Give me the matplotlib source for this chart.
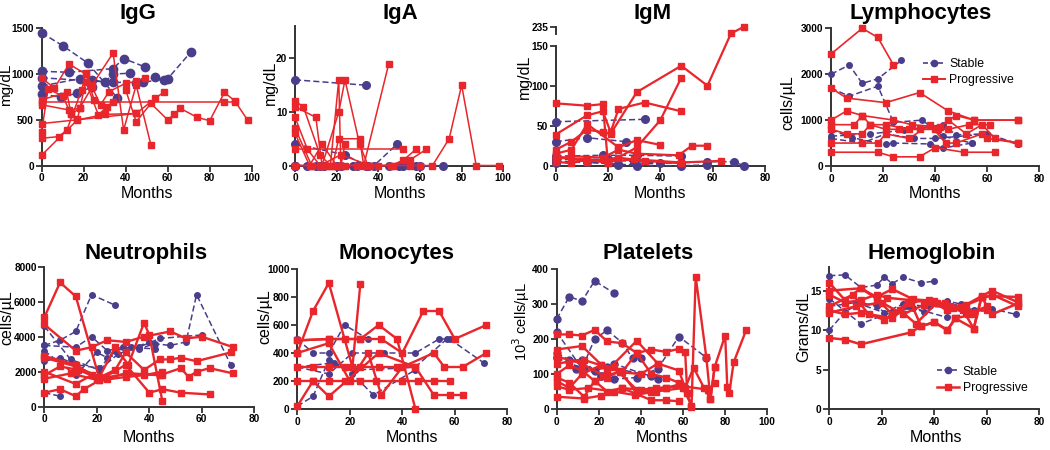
import numpy as np
import matplotlib
matplotlib.use("Agg")
import matplotlib.pyplot as plt
import matplotlib.transforms as mtransforms
from matplotlib.lines import Line2D

plt.rcParams['font.family'] = ['Liberation Sans', 'DejaVu Sans']

RED = '#E8262B'
PURPLE = '#4A3D8C'
SPINE = '#333333'

# ---------------- IgG ----------------
igg_stable_months = [[0, 10, 22, 36], [0, 13, 34, 39, 49], [0, 18, 24, 30, 34, 42],
                     [0, 34, 48, 54, 58], [0, 9, 17, 24], [45, 60, 71]]
igg_stable_vals = [[1450, 1310, 1120, 740], [1030, 1020, 1060, 1170, 1080], [870, 950, 940, 910, 1000, 1010],
                   [960, 910, 910, 970, 940], [780, 750, 790, 860], [900, 950, 1240]]
igg_prog_months = [[0, 6, 13, 21, 24, 34, 39, 45, 52], [0, 12, 14, 17, 21, 27, 31, 34],
                   [0, 13, 18, 24, 28, 32, 40, 45, 49], [0, 8, 12, 19, 21, 25],
                   [0, 3, 10, 14, 18], [0, 45, 54, 58], [0, 87, 92],
                   [40, 45, 52, 60, 63, 66, 74, 80, 87, 92, 98], [0, 17, 30, 45]]
igg_prog_vals = [[960, 845, 1110, 1000, 880, 1230, 390, 880, 226], [720, 800, 560, 506, 917, 553, 644, 700],
                 [665, 608, 626, 860, 662, 808, 900, 920, 954], [300, 317, 389, 826, 1008, 717],
                 [371, 840, 760, 560, 626], [460, 570, 735, 800], [700, 700, 700],
                 [826, 480, 680, 500, 560, 626, 528, 491, 800, 706, 499], [116, 500, 560, 570]]

# ---------------- IgA ----------------
iga_stable_months = [[0, 34], [0, 24, 34], [0, 10, 20, 28, 38, 49], [0, 14, 30, 45, 52, 60, 71],
                     [0, 6, 12, 22, 35, 50, 58]]
iga_stable_vals = [[16, 15], [4, 2, 0], [0, 0, 0, 0, 0, 4], [0, 0, 0, 0, 0, 0, 0], [0, 0, 0, 0, 0, 0, 0]]
iga_prog_months = [[0, 4, 12, 17, 21, 22, 24], [0, 10, 13, 21, 24, 31, 35],
                   [0, 6, 12, 18, 21, 31, 33, 45], [0, 52], [0, 7, 13, 20, 30],
                   [0, 8, 15, 24, 35, 46, 52, 58], [0, 12, 22, 36, 47, 55, 63],
                   [0, 20, 40, 55, 60, 66, 74, 80, 87, 98]]
iga_prog_vals = [[12, 11, 2, 0, 16, 0, 4], [11, 9, 0, 10, 16, 4, 0],
                 [9, 3, 0, 0, 5, 5, 0, 19], [3, 3], [6, 0, 4, 0, 0],
                 [7, 0, 0, 0, 0, 0, 1, 3], [0, 0, 2, 0, 0, 1, 3],
                 [0, 0, 0, 0, 0, 0, 5, 15, 0, 0]]

# ---------------- IgM ----------------
igm_stable_months = [[0, 34], [0, 12, 27], [0, 18, 31, 48], [0, 12, 24, 40, 58, 68, 72],
                     [0, 24, 31, 48, 58], [0, 20, 30, 48]]
igm_stable_vals = [[55, 58], [30, 35, 30], [12, 13, 13, 12], [4, 5, 1, 3, 5, 5, 0],
                   [6, 2, 0, 0, 1], [8, 8, 5, 3]]
igm_prog_months = [[0, 12, 18, 20], [0, 12, 18, 21, 24, 34, 48],
                   [0, 6, 12, 18, 21, 31, 48, 58, 67, 72], [0, 6, 12, 24, 31, 40],
                   [0, 12, 20, 31, 40, 48], [0, 6, 18, 24, 31, 47, 52, 58],
                   [0, 6, 12, 20, 30, 48, 63], [0, 12, 24, 34, 48]]
igm_prog_vals = [[78, 75, 77, 3], [39, 63, 68, 42, 71, 79, 68],
                 [20, 30, 45, 42, 40, 92, 125, 100, 205, 235], [15, 20, 52, 23, 32, 26],
                 [10, 8, 3, 23, 57, 110], [8, 12, 10, 20, 15, 13, 25, 25],
                 [5, 3, 8, 5, 8, 4, 6], [12, 5, 10, 6, 3]]

# ---------------- Lymphocytes ----------------
lym_stable_months = [[0, 7, 12, 18, 27], [0, 7, 18, 24, 35, 43, 54], [0, 8, 18, 21, 24, 38, 43, 54],
                     [0, 12, 21, 32, 40, 58, 72], [0, 15, 28, 43, 48, 60, 72]]
lym_stable_vals = [[2000, 2200, 1800, 1900, 2300], [1700, 1520, 1740, 950, 1000, 650, 500],
                   [790, 620, 500, 480, 500, 480, 390, 500], [600, 500, 700, 600, 600, 690, 470],
                   [650, 700, 780, 900, 680, 700, 480]]
lym_prog_months = [[0, 12, 18, 24], [0, 6, 21, 34, 45, 55, 72],
                   [0, 6, 12, 15, 21, 30, 40, 48, 55, 72],
                   [0, 9, 12, 24, 31, 42, 45, 52, 58, 63, 72],
                   [0, 18, 24, 34, 40, 51, 63],
                   [0, 12, 18, 21, 30, 38, 44, 48, 58, 60, 72],
                   [0, 6, 12, 15, 21, 26, 34, 41, 45, 53, 61]]
lym_prog_vals = [[2440, 3000, 2800, 2200], [1700, 1480, 1380, 1600, 1200, 1000, 1000],
                 [1000, 1200, 1100, 900, 900, 800, 800, 1100, 1000, 1000],
                 [900, 900, 1100, 1000, 900, 850, 1000, 700, 900, 600, 500],
                 [300, 300, 200, 200, 400, 300, 300],
                 [500, 500, 500, 700, 600, 900, 500, 500, 700, 600, 500],
                 [800, 700, 700, 900, 800, 800, 800, 800, 800, 900, 900]]

# ---------------- Neutrophils ----------------
neu_stable_months = [[0, 6, 12, 18, 27], [0, 12, 18, 24, 30, 36, 42, 48, 54, 58, 71],
                     [0, 6, 12, 21, 27, 33, 42], [0, 6], [0, 12, 20, 24, 36, 44, 60],
                     [0, 10, 21, 28, 40]]
neu_stable_vals = [[3500, 3800, 4300, 6400, 5800],
                   [3500, 3400, 4000, 3200, 3400, 3300, 3600, 3500, 3700, 6400, 2400],
                   [2600, 2800, 2400, 2200, 3200, 3400, 3300], [800, 600],
                   [3200, 1800, 3100, 2800, 3400, 3900, 4100], [4600, 2700, 2100, 3000, 3700]]
neu_prog_months = [[0, 6, 12, 21], [0, 12, 18, 24, 31, 38, 48, 54, 60, 72],
                   [0, 12, 21, 27, 32, 38, 40, 45],
                   [0, 12, 20, 27, 31, 38, 44, 48, 52, 58, 71],
                   [0, 12, 18, 24, 31, 44, 52, 55, 58, 63, 72],
                   [0, 6, 12, 15, 21, 31, 40, 45, 52, 63],
                   [0, 10, 21, 31, 38, 45], [0, 6, 13, 21, 32, 45]]
neu_prog_vals = [[5100, 7100, 6300, 1600], [4700, 3200, 3400, 3800, 3700, 4000, 4300, 3900, 4000, 3400],
                 [2800, 2300, 1700, 3400, 2400, 4800, 4100, 300],
                 [2900, 2400, 1600, 2100, 3100, 2100, 2700, 2700, 2800, 2600, 3100],
                 [2000, 1300, 1800, 1600, 1900, 1800, 2200, 1700, 2000, 2200, 1900],
                 [800, 1000, 600, 1000, 1500, 2400, 800, 1000, 800, 700],
                 [1600, 1900, 1500, 1700, 1800, 2000], [1800, 2300, 2100, 1600, 1900, 1800]]

# ---------------- Monocytes ----------------
mono_stable_months = [[0, 6, 12, 18, 27], [0, 12, 21, 27, 33, 40, 45, 54, 58, 71],
                      [0, 6, 12, 21, 29, 45], [0, 14, 22, 38, 45, 57]]
mono_stable_vals = [[500, 400, 400, 600, 500], [300, 250, 400, 400, 400, 400, 400, 500, 500, 330],
                    [20, 90, 350, 250, 100, 280], [300, 330, 280, 290, 300, 500]]
mono_prog_months = [[0, 6, 12, 21, 24], [0, 12, 18, 24, 31, 38, 45],
                    [0, 6, 12, 18, 24, 30, 40, 46, 52, 58], [0, 6, 12, 18, 24, 31, 38, 45],
                    [0, 12, 24, 32, 40, 48, 54, 60, 72], [0, 6, 12, 31, 45, 52, 58, 63],
                    [0, 12, 20, 27, 32, 40, 52, 56, 63, 72]]
mono_prog_vals = [[400, 700, 900, 300, 890], [490, 500, 500, 500, 600, 500, 0],
                  [200, 200, 200, 200, 200, 200, 200, 200, 200, 200],
                  [300, 300, 300, 300, 300, 300, 300, 300],
                  [490, 500, 500, 500, 400, 700, 700, 500, 600], [20, 200, 90, 400, 300, 100, 100, 100],
                  [400, 470, 200, 400, 100, 300, 400, 300, 300, 400]]

# ---------------- Platelets ----------------
plt_stable_months = [[0, 6, 12, 18, 27], [0, 12, 18, 24, 31, 36, 40],
                     [0, 6, 12, 21, 27, 38, 48, 58, 71], [0, 13, 21, 27, 48], [0, 9, 18, 24, 45]]
plt_stable_vals = [[257, 321, 308, 366, 332], [220, 115, 200, 225, 190, 145, 145],
                   [160, 140, 140, 95, 85, 90, 115, 207, 147], [145, 115, 95, 130, 85],
                   [150, 115, 110, 120, 95]]
plt_prog_months = [[0, 6, 12, 18, 24, 31, 38, 45, 52, 58, 61, 62, 64, 66, 71, 73, 75],
                   [0, 12, 24, 38, 48, 58, 61, 65, 70, 73, 75, 80, 81, 82, 84, 90],
                   [0, 13, 21, 31, 38, 45, 52, 58], [0, 6, 12, 18, 24, 30, 38, 45, 52, 58, 63],
                   [0, 6, 12, 21, 27, 38, 45, 52], [0, 6, 13, 18, 24, 31, 40, 47, 60, 72, 75],
                   [0, 13, 21, 31, 45, 52, 58], [0, 6, 15, 27, 37, 47, 60, 64],
                   [0, 12, 22, 30, 40, 48]]
plt_prog_vals = [[213, 213, 210, 226, 193, 188, 160, 170, 163, 172, 162, 45, 5, 378, 150, 30, 121],
                 [170, 180, 110, 195, 130, 110, 60, 118, 60, 28, 120, 210, 62, 47, 133, 226],
                 [130, 140, 125, 105, 160, 100, 90, 75], [100, 125, 110, 80, 90, 110, 45, 50, 60, 70, 45],
                 [80, 60, 100, 125, 120, 55, 55, 60], [90, 75, 35, 80, 50, 60, 55, 60, 65, 55, 75],
                 [35, 30, 38, 60, 25, 25, 22], [65, 55, 60, 50, 40, 50, 60, 10],
                 [150, 130, 95, 105, 100, 130]]

# ---------------- Hemoglobin ----------------
hgb_stable_months = [[0, 6, 12, 18, 21, 24, 28, 35, 40], [0, 6, 12, 18, 24, 30, 36, 45, 50, 55],
                     [0, 12, 24, 32, 45, 52, 62, 71], [0, 10, 21, 28, 38, 48]]
hgb_stable_vals = [[16.9, 17.0, 15.4, 15.7, 16.7, 15.9, 16.7, 16.0, 16.2],
                   [10.0, 12.3, 13.5, 13.0, 11.5, 13.0, 12.3, 13.7, 13.3, 12.5],
                   [14.0, 10.8, 12.3, 12.8, 11.6, 12.0, 12.7, 12.0],
                   [13.0, 13.5, 12.2, 13.3, 13.0, 12.9]]
hgb_prog_months = [[0, 6, 12, 18, 24, 32, 40, 45, 52, 58, 62, 72],
                   [0, 6, 12, 18, 22, 31, 38, 46, 51, 55, 58, 62, 72],
                   [0, 6, 12, 24, 31, 35, 40, 45, 48, 55],
                   [0, 6, 12, 31, 35, 40, 45, 48, 55, 58, 62, 72],
                   [0, 9, 15, 21, 27, 33, 41, 47, 53, 60],
                   [0, 12, 18, 24, 30, 38, 45, 50, 62, 72],
                   [0, 10, 20, 28, 36, 44, 52, 60]]
hgb_prog_vals = [[16.0, 13.8, 15.3, 14.2, 15.2, 13.9, 13.7, 12.9, 13.2, 14.3, 15.0, 13.5],
                 [14.5, 13.5, 13.8, 14.5, 14.1, 13.8, 13.6, 13.0, 12.5, 10.2, 14.2, 14.3, 14.2],
                 [12.5, 12.0, 12.2, 11.5, 13.5, 10.5, 11.0, 10.0, 11.5, 12.0],
                 [9.0, 8.8, 8.2, 9.7, 10.5, 11.0, 10.0, 11.5, 10.2, 14.2, 12.0, 13.4],
                 [13.0, 14.5, 12.0, 11.3, 12.5, 10.8, 13.5, 12.8, 12.0, 13.0],
                 [15.0, 15.3, 14.0, 12.0, 13.5, 13.8, 12.5, 12.9, 14.5, 13.0],
                 [12.2, 13.0, 13.5, 12.0, 13.2, 13.5, 12.5, 12.5]]

W, H = 1050, 450
fig = plt.figure(figsize=(10.5, 4.5), dpi=100)


def add_axes(x0, x1, yb, yt):
    return fig.add_axes([x0 / W, 1 - yb / H, (x1 - x0) / W, (yb - yt) / H])


def style(ax, xticks, yticks, xlim, ylim):
    ax.set_xlim(*xlim)
    ax.set_ylim(*ylim)
    ax.set_xticks(xticks)
    ax.set_yticks(yticks)
    for s in ['top', 'right']:
        ax.spines[s].set_visible(False)
    for s in ['left', 'bottom']:
        ax.spines[s].set_linewidth(1.4)
        ax.spines[s].set_color(SPINE)
    ax.spines['bottom'].set_bounds(xticks[0], xticks[-1])
    ax.tick_params(direction='out', length=4, width=1.3, color=SPINE, labelsize=7.3, pad=1.5)
    for lab in ax.get_xticklabels() + ax.get_yticklabels():
        lab.set_fontweight('bold')
    ax.patch.set_visible(False)


def draw(ax, sm, sv, pm, pv, cs=5.0, ss=4.2, lw_s=1.1, lw_p=1.3):
    for m, v in zip(sm, sv):
        ax.plot(m, v, color=PURPLE, ls=(0, (4, 2)), lw=lw_s, marker='o', ms=cs,
                mec=PURPLE, mfc=PURPLE, clip_on=False, zorder=3)
    for m, v in zip(pm, pv):
        ax.plot(m, v, color=RED, ls='-', lw=lw_p, marker='s', ms=ss,
                mec=RED, mfc=RED, clip_on=False, zorder=4)


def labels(title, tx, ty, ylab, yx, yy, mx, my, ysize=11.5):
    fig.text(tx / W, 1 - ty / H, title, fontsize=16, fontweight='bold', ha='center', va='baseline')
    fig.text(yx / W, 1 - yy / H, ylab, fontsize=ysize, rotation=90, ha='center', va='center')
    fig.text(mx / W, 1 - my / H, 'Months', fontsize=11.5, ha='center', va='center')


# IgG
ax = add_axes(41.7, 251.7, 165.7, 28.3)
style(ax, [0, 20, 40, 60, 80, 100], [0, 500, 1000, 1500], (0, 100), (0, 1500))
draw(ax, igg_stable_months, igg_stable_vals, igg_prog_months, igg_prog_vals, cs=6.0, ss=4.5, lw_p=1.1)
labels('IgG', 138, 19, 'mg/dL', 6.5, 85, 147, 193, ysize=11)

# IgA
ax = add_axes(295, 503.3, 165.5, 26.3)
style(ax, [0, 20, 40, 60, 80, 100], [0, 10, 20], (0, 100), (0, 26))
draw(ax, iga_stable_months, iga_stable_vals, iga_prog_months, iga_prog_vals, cs=5.5, ss=4.2, lw_p=1.1)
labels('IgA', 400, 19, 'mg/dL', 270, 83, 400, 193)

# IgM with broken axis
BRK, RATIO = 150.0, 0.28


def fwd(y):
    y = np.asarray(y, dtype=float)
    return np.where(y <= BRK, y, BRK + (y - BRK) * RATIO)


def inv(y):
    y = np.asarray(y, dtype=float)
    return np.where(y <= BRK, y, BRK + (y - BRK) / RATIO)


ax = add_axes(555.7, 765, 165.7, 26.7)
ax.set_yscale('function', functions=(fwd, inv))
style(ax, [0, 20, 40, 60, 80], [0, 50, 100, 150, 235], (0, 80), (0, 235))
ax.spines['left'].set_bounds(0, 150)
trans = mtransforms.blended_transform_factory(ax.transAxes, ax.transData)
ax.add_line(Line2D([0, 0], [203, 235], transform=trans, color=SPINE, lw=1.4, clip_on=False))
draw(ax, igm_stable_months, igm_stable_vals, igm_prog_months, igm_prog_vals, cs=5.5, ss=4.2, lw_p=1.6)
labels('IgM', 653, 19, 'mg/dL', 524, 77, 660, 193)

# Lymphocytes
ax = add_axes(831, 1039.3, 166, 28.3)
style(ax, [0, 20, 40, 60, 80], [0, 1000, 2000, 3000], (0, 80), (0, 3000))
draw(ax, lym_stable_months, lym_stable_vals, lym_prog_months, lym_prog_vals, cs=4.0, ss=4.2, lw_p=1.2)
labels('Lymphocytes', 921, 19, 'cells/µL', 788, 103, 935, 193)
hs = [Line2D([], [], color=PURPLE, ls=(0, (3, 1.5)), lw=1.2, marker='o', ms=4.5),
      Line2D([], [], color=RED, lw=1.4, marker='s', ms=4.5)]
ax.legend(hs, ['Stable', 'Progressive'], loc='upper left', bbox_to_anchor=(0.42, 0.82),
          frameon=False, fontsize=8.8, handlelength=1.8, handletextpad=0.3, labelspacing=0.35,
          borderaxespad=0)

# Neutrophils
ax = add_axes(44.3, 254.3, 406.7, 266.7)
style(ax, [0, 20, 40, 60, 80], [0, 2000, 4000, 6000, 8000], (0, 80), (0, 8000))
draw(ax, neu_stable_months, neu_stable_vals, neu_prog_months, neu_prog_vals, cs=4.0, ss=4.3, lw_p=1.7)
labels('Neutrophils', 146, 259, 'cells/µL', 7, 318, 149, 438)

# Monocytes
ax = add_axes(297.3, 507.3, 409, 269)
style(ax, [0, 20, 40, 60, 80], [0, 200, 400, 600, 800, 1000], (0, 80), (0, 1000))
draw(ax, mono_stable_months, mono_stable_vals, mono_prog_months, mono_prog_vals, cs=4.0, ss=4.3, lw_p=1.7)
labels('Monocytes', 397, 259, 'cells/µL', 265, 317, 412, 438)

# Platelets
ax = add_axes(556.7, 767.3, 409, 269)
style(ax, [0, 20, 40, 60, 80, 100], [0, 100, 200, 300, 400], (0, 100), (0, 400))
draw(ax, plt_stable_months, plt_stable_vals, plt_prog_months, plt_prog_vals, cs=5.0, ss=4.0, lw_p=1.7)
labels('Platelets', 648, 259, '10$^3$ cells/µL', 521, 322, 662, 438, ysize=10.5)

# Hemoglobin
ax = add_axes(829.3, 1039.3, 409, 267)
style(ax, [0, 20, 40, 60, 80], [0, 5, 10, 15], (0, 80), (0, 18))
ax.spines['left'].set_bounds(0, 18)
draw(ax, hgb_stable_months, hgb_stable_vals, hgb_prog_months, hgb_prog_vals, cs=4.0, ss=5.0, lw_p=1.8)
labels('Hemoglobin', 932, 259, 'Grams/dL', 804, 327, 936, 438)
hs = [Line2D([], [], color=PURPLE, ls=(0, (3, 1.5)), lw=1.2, marker='o', ms=4.5),
      Line2D([], [], color=RED, lw=1.8, marker='s', ms=5)]
ax.legend(hs, ['Stable', 'Progressive'], loc='upper left', bbox_to_anchor=(0.49, 0.34),
          frameon=False, fontsize=8.8, handlelength=1.8, handletextpad=0.3, labelspacing=0.35,
          borderaxespad=0)

fig.savefig('out.png', dpi=100)
